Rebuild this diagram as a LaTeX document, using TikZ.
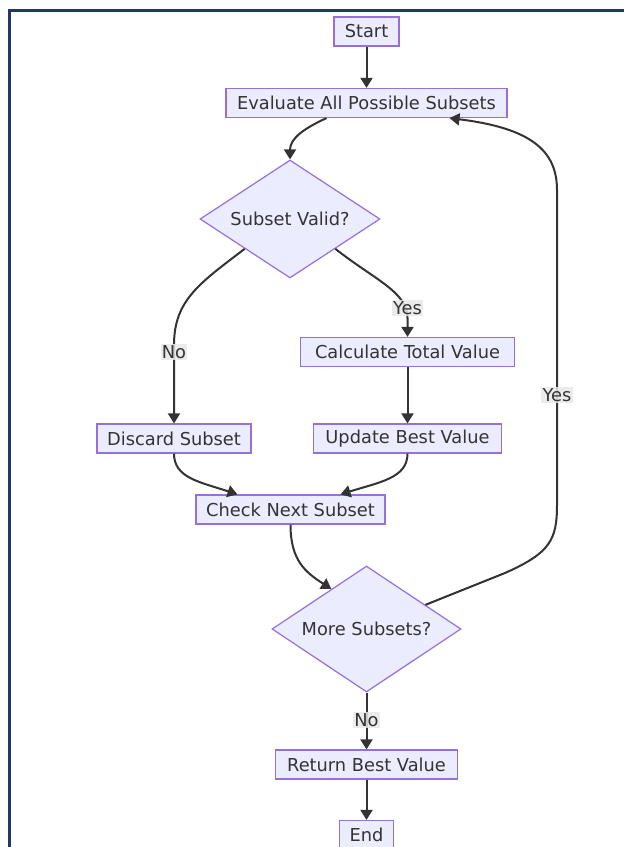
\documentclass[tikz,border=0pt]{standalone}
\usepackage{fontspec}
\setmainfont{DejaVu Sans}
\usetikzlibrary{shapes.geometric,arrows.meta,calc}
\definecolor{nodefill}{HTML}{ECECFF}
\definecolor{nodeline}{HTML}{9370DB}
\definecolor{ink}{HTML}{333333}
\definecolor{framecol}{HTML}{1F3864}
\definecolor{lblbg}{HTML}{E8E8E8}
\begin{document}
\begin{tikzpicture}[x=1pt,y=-1pt,
  txt/.style={text=ink, font=\fontsize{17.8}{20}\selectfont},
  box/.style={txt, draw=nodeline, fill=nodefill, line width=1.2pt, inner sep=0pt, minimum height=29pt},
  decision/.style={txt, diamond, shape aspect=1.53, draw=nodeline, fill=nodefill, line width=1.2pt, inner sep=0pt},
  flow/.style={draw=ink, line width=2pt, -{Triangle[length=10pt,width=12pt]}},
  lbl/.style={txt, fill=lblbg, fill opacity=0.85, text opacity=1, inner sep=1.2pt}]
\useasboundingbox (0,0) rectangle (624,847);
\fill[white] (0,0) rectangle (624,847);
\draw[framecol, line width=3pt] (9,850) -- (9,10) -- (626,10);

\node[box, minimum width=65pt] (start) at (366.5,31.5) {Start};
\node[box, minimum width=281pt] (eval) at (366.5,103) {Evaluate All Possible Subsets};
\node[decision, minimum width=180pt, minimum height=118pt] (valid) at (290,219) {Subset Valid?};
\node[box, minimum width=214pt] (calc) at (407.5,352) {Calculate Total Value};
\node[box, minimum width=154pt] (discard) at (174,438.5) {Discard Subset};
\node[box, minimum width=188pt] (update) at (407.5,438.5) {Update Best Value};
\node[box, minimum width=189pt] (check) at (290.5,509.5) {Check Next Subset};
\node[decision, minimum width=189pt, minimum height=126pt] (more) at (366.5,629) {More Subsets?};
\node[box, minimum width=182pt] (ret) at (366.5,764.5) {Return Best Value};
\node[box, minimum width=54pt] (end) at (366.5,835) {End};

\draw[flow] (start.south) -- (eval.north -| start.south);
\draw[flow] ([xshift=-40pt]eval.south) .. controls (305,128) and (290,138) .. (valid.north);
\draw[flow] (valid.south west) .. controls (200,283) and (174,300) .. (174,345) -- (discard.north);
\draw[flow] (valid.south east) .. controls (375,280) and (407.5,292) .. (407.5,318) -- (calc.north);
\draw[flow] (calc.south) -- (update.north);
\draw[flow] (discard.south) .. controls (174,478) and (200,482) .. ([xshift=-53pt]check.north);
\draw[flow] (update.south) .. controls (407.5,478) and (380,482) .. ([xshift=50pt]check.north);
\draw[flow] (check.south) .. controls (290.5,560) and (305,572) .. ($(more.west)!0.63!(more.north)$);
\draw[flow] (more.south) -- (ret.north);
\draw[flow] (ret.south) -- (end.north);
\draw[flow] ($(more.north)!0.62!(more.east)$) -- (505,573) .. controls (550,553) and (557,540) .. (557,505) -- (557,190) .. controls (557,150) and (530,128) .. ([xshift=83pt]eval.south);

\node[lbl] (lno1) at (174,352) {No};
\node[lbl] (lyes1) at (407.5,308) {Yes};
\node[lbl] (lyes2) at (557,395) {Yes};
\node[lbl] (lno2) at (366.5,720) {No};
\end{tikzpicture}
\end{document}
